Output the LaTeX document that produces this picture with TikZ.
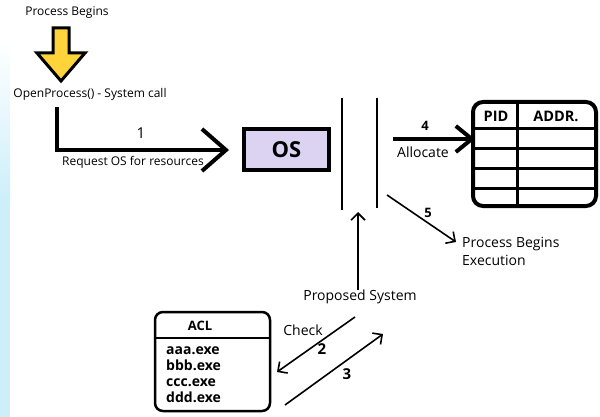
\documentclass[tikz,border=0pt]{standalone}
\usepackage{fontspec}
\setmainfont{Open Sans}
\usetikzlibrary{arrows.meta,calc}
\definecolor{osfill}{HTML}{DCD3F2}
\definecolor{ylw}{HTML}{FFD43B}
\definecolor{stripblue}{HTML}{CDEFFA}
\begin{document}
\begin{tikzpicture}[x=1pt,y=-1pt,
  txt/.style={inner sep=0pt, font=\fontsize{12}{14}\selectfont},
  rtxt/.style={inner sep=0pt, font=\fontsize{14}{18}\selectfont},
  bnum/.style={inner sep=0pt, font=\fontsize{15}{17}\selectfont\bfseries},
  hdr/.style={inner sep=0pt, font=\fontsize{14.5}{17}\selectfont\bfseries},
  thinarrow/.style={line width=1.6pt, -{Straight Barb[length=7pt,width=14pt]}},
  osbox/.style={draw, line width=4pt, fill=osfill, minimum width=85pt, minimum height=41pt, inner sep=0pt, font=\fontsize{22}{24}\selectfont\bfseries},
  tblline/.style={line width=3pt},
  acltxt/.style={inner sep=0pt, anchor=west, text height=10pt, text depth=3pt, font=\fontsize{14}{16}\selectfont\bfseries}
]
\useasboundingbox (0,0) rectangle (600,417);
% left background strip
\shade[top color=white, bottom color=stripblue] (0,40) rectangle (10,200);
\fill[stripblue] (0,200) rectangle (10,417);

% start
\node[txt] (pb) at (67,13) {Process Begins};
\draw[line width=3pt, fill=ylw, line join=miter]
  (53,28) -- (69,28) -- (69,53) -- (85,53) -- (61,81) -- (37,53) -- (53,53) -- cycle;
\node[txt] (op) at (90,94) {OpenProcess() - System call};

% arrow 1
\coordinate (s1) at (57,107);
\coordinate (e1) at (229,150);
\draw[line width=4pt, -{Straight Barb[length=24pt,width=42pt]}] (s1) |- (e1);
\node[bnum, font=\fontsize{15}{17}\selectfont] (n1) at (141,133) {1};
\node[txt] (req) at (133,162) {Request OS for resources};

% OS
\node[osbox] (os) at (286.5,149.5) {OS};

% barrier lines
\coordinate (b1t) at (342,98); \coordinate (b1b) at (342,210);
\coordinate (b2t) at (377,98); \coordinate (b2b) at (377,208);
\draw[line width=1.8pt] (b1t) -- (b1b);
\draw[line width=1.8pt] (b2t) -- (b2b);

% table
\draw[line width=4pt, rounded corners=10pt] (473,102) rectangle (596,206);
\draw[tblline] (517,102) -- (517,206);
\foreach \yy in {129,149,169,189} \draw[tblline] (473,\yy) -- (596,\yy);
\node[hdr] (pid) at (496,116) {PID};
\node[hdr] (addr) at (556,116) {ADDR.};
\coordinate (tbl) at (475,139);

% arrow 4
\coordinate (s4) at (393,139);
\draw[line width=4pt, -{Straight Barb[length=16pt,width=26pt]}] (s4) -- (tbl);
\node[bnum, font=\fontsize{13}{15}\selectfont\bfseries] (n4) at (425,126) {4};
\node[rtxt] (alloc) at (423,152) {Allocate};

% arrow 5
\coordinate (s5) at (387,195);
\node[rtxt, anchor=west, align=left] (exec) at (462,251) {Process Begins\\Execution};
\coordinate (e5) at (456,242);
\draw[thinarrow] (s5) -- (e5);
\node[bnum, font=\fontsize{13}{15}\selectfont\bfseries] (n5) at (428,213) {5};

% proposed system
\node[rtxt] (ps) at (360,297) {Proposed System};
\coordinate (up) at (358,212);
\draw[thinarrow] (ps.north -| up) -- (up);

% ACL
\draw[line width=2.5pt, rounded corners=8pt] (155,312) rectangle (270,411);
\draw[line width=2pt] (155,338) -- (270,338);
\node[hdr, font=\fontsize{13}{15}\selectfont\bfseries] (acl) at (200,326) {ACL};
\node[acltxt] (i1) at (166,351) {aaa.exe};
\node[acltxt] (i2) at (166,367) {bbb.exe};
\node[acltxt] (i3) at (166,383) {ccc.exe};
\node[acltxt] (i4) at (166,399) {ddd.exe};

% arrow 2 and 3
\coordinate (s2) at (355,317); \coordinate (e2) at (277,372);
\draw[thinarrow] (s2) -- (e2);
\node[rtxt] (chk) at (303,330) {Check};
\node[bnum] (n2) at (322,349) {2};
\coordinate (s3) at (285,405); \coordinate (e3) at (383,334);
\draw[thinarrow] (s3) -- (e3);
\node[bnum] (n3) at (347,374) {3};
\end{tikzpicture}
\end{document}
